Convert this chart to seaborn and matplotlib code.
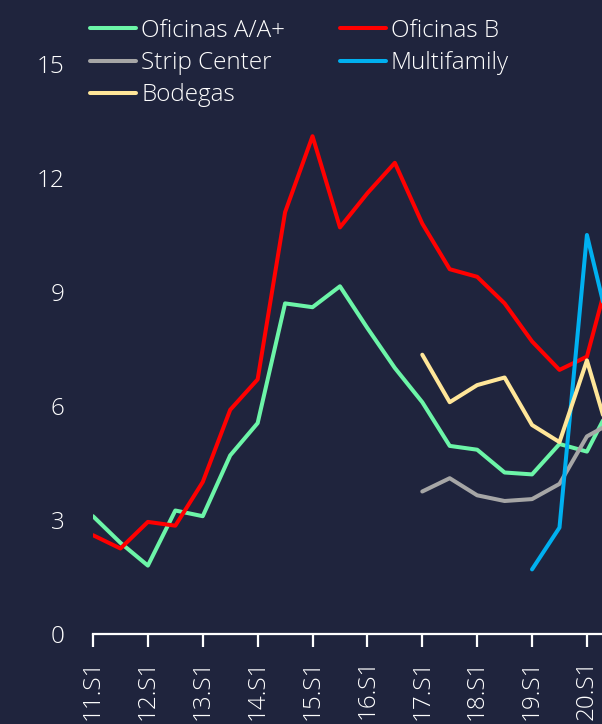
import matplotlib
matplotlib.use("Agg")
import matplotlib.pyplot as plt
import pandas as pd
import seaborn as sns

# semesters 11.S1 .. 20.S2
periods = ['11.S1', '11.S2', '12.S1', '12.S2', '13.S1', '13.S2', '14.S1', '14.S2',
           '15.S1', '15.S2', '16.S1', '16.S2', '17.S1', '17.S2', '18.S1', '18.S2',
           '19.S1', '19.S2', '20.S1', '20.S2']

oficinas_a = [3.1, 2.4, 1.8, 3.25, 3.1, 4.7, 5.55, 8.7, 8.6, 9.15, 8.05, 7.0,
              6.1, 4.95, 4.85, 4.25, 4.2, 5.0, 4.8, 6.2]
oficinas_b = [2.6, 2.25, 2.95, 2.85, 4.0, 5.9, 6.7, 11.1, 13.1, 10.7, 11.6, 12.4,
              10.8, 9.6, 9.4, 8.7, 7.7, 6.95, 7.3, 10.0]
strip_center = [3.75, 4.1, 3.65, 3.5, 3.55, 3.95, 5.2, 5.6]      # from 17.S1
multifamily = [1.7, 2.8, 10.5, 7.5]                               # from 19.S1
bodegas = [7.35, 6.1, 6.55, 6.75, 5.5, 5.05, 7.2, 4.75]           # from 17.S1

series = {
    'Oficinas A/A+': oficinas_a,
    'Oficinas B': oficinas_b,
    'Strip Center': strip_center,
    'Multifamily': multifamily,
    'Bodegas': bodegas,
}
colors = {
    'Oficinas A/A+': '#6cf5a8',
    'Oficinas B': '#ff0000',
    'Strip Center': '#a6a6a6',
    'Multifamily': '#00b0f0',
    'Bodegas': '#ffe699',
}

rows = []
for name, vals in series.items():
    start = len(periods) - len(vals)
    for i, v in enumerate(vals):
        rows.append({'x': start + i, 'valor': v, 'serie': name})
df = pd.DataFrame(rows)

bg = '#1f243d'
sns.set_style('white')
plt.rcParams['font.family'] = ['Open Sans', 'DejaVu Sans']

fig = plt.figure(figsize=(6.02, 7.24), dpi=100, facecolor=bg)
ax = fig.add_axes([93/602, 90/724, 19*27.44/602, 570/724])
ax.set_facecolor(bg)

sns.lineplot(data=df, x='x', y='valor', hue='serie', palette=colors,
             hue_order=list(series.keys()), linewidth=2.9, ax=ax,
             legend=False)
for line in ax.lines:
    line.set_solid_capstyle('round')

ax.set_xlim(0, 19)
ax.set_ylim(0, 15)
ax.set_yticks([0, 3, 6, 9, 12, 15])
ax.set_xticks(range(0, len(periods), 2))
ax.set_xticklabels(periods[::2], rotation=90)
ax.set_xlabel('')
ax.set_ylabel('')
for s in ['top', 'right', 'left']:
    ax.spines[s].set_visible(False)
ax.spines['bottom'].set_color('white')
ax.spines['bottom'].set_linewidth(1.6)
ax.tick_params(axis='x', bottom=True, direction='out', colors='white',
               length=9, width=1.6, labelsize=17.5, pad=9)
ax.tick_params(axis='y', left=False, colors='white', labelsize=17.5, pad=17)
for lab in ax.get_xticklabels() + ax.get_yticklabels():
    lab.set_fontweight('light')

handles = [plt.Line2D([], [], color=colors[n], lw=2.9, solid_capstyle='round')
           for n in series]
order = [0, 2, 4, 1, 3]
leg = fig.legend([handles[i] for i in order], [list(series)[i] for i in order],
                 ncol=2, loc='upper left', bbox_to_anchor=(90/602, 1 - 19/724),
                 frameon=False, fontsize=17.5, handlelength=1.9, handletextpad=0.2,
                 columnspacing=2.25, labelspacing=0.33, borderpad=0, borderaxespad=0)
for t in leg.get_texts():
    t.set_color('white')
    t.set_fontweight('light')

fig.savefig('out.png', dpi=100, facecolor=bg)
